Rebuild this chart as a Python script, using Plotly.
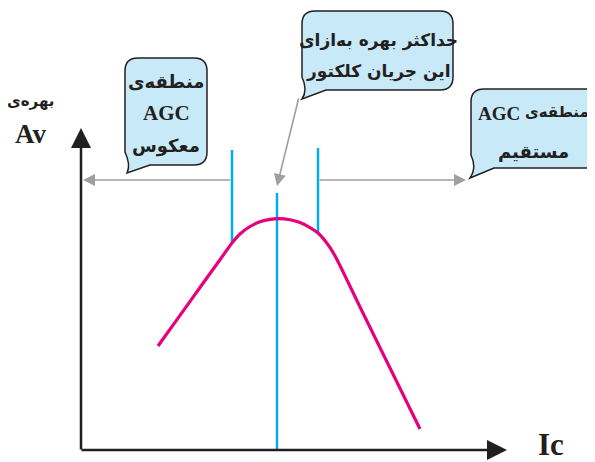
import plotly.graph_objects as go

# ---- data (schematic gain curve Av vs collector current Ic) ----
curve_x = [158, 180, 200, 220, 232, 240, 250, 260, 270, 279, 290, 300, 310, 318, 326, 334, 360, 390, 420]
curve_y = [346, 315.4, 287.5, 259.7, 243, 234, 226.5, 221.8, 219.3, 218.6, 219.8, 222.6, 227.6, 233, 242, 254, 307, 368, 429]

marker_x = [232, 277, 318]          # AGC region borders and max-gain current
marker_top = [150, 193, 148]
marker_bottom = [243, 450, 233]

y_label = ["بهره‌ی", "Av"]
x_label = "Ic"
callout_left = ["منطقه‌ی", "AGC", "معکوس"]
callout_mid = ["حداکثر بهره به‌ازای", "این جریان کلکتور"]
callout_right = ["AGC", "منطقه‌ی", "مستقیم"]

W, H = 595, 462
PAD = 8  # page body margin offset
INK = "#231f20"
BLUE = "#00aeef"
PINK = "#e6007e"
GRAY = "#9d9fa2"
FILL = "#c8e9f8"
FA = "DejaVu Sans"
SERIF = "Liberation Serif"

fig = go.Figure()

# blue marker lines
bx, by = [], []
for x, t, b in zip(marker_x, marker_top, marker_bottom):
    bx += [x, x, None]
    by += [t, b, None]
fig.add_trace(go.Scatter(x=bx, y=by, mode="lines", line=dict(color=BLUE, width=2.5),
                         hoverinfo="skip"))

# gain curve
fig.add_trace(go.Scatter(x=curve_x, y=curve_y, mode="lines",
                         line=dict(color=PINK, width=3.2, shape="spline", smoothing=0.8),
                         hoverinfo="skip"))


def bubble(x0, y0, x1, y1, r, b0, b1, tx, ty):
    return (f"M {x0+r},{y0} L {x1-r},{y0} Q {x1},{y0} {x1},{y0+r} "
            f"L {x1},{y1-r} Q {x1},{y1} {x1-r},{y1} L {b1},{y1} L {tx},{ty} "
            f"Q {b0},{y1} {x0},{y1-r} L {x0},{y0+r} Q {x0},{y0} {x0+r},{y0} Z")


shapes = [
    dict(type="path", xref="x", yref="y", path=bubble(125, 58, 207, 165, 13, 131, 150, 127, 173),
         fillcolor=FILL, line=dict(color=INK, width=1.5)),
    dict(type="path", xref="x", yref="y", path=bubble(302, 11, 453, 90, 13, 308, 326, 302, 99),
         fillcolor=FILL, line=dict(color=INK, width=1.5)),
    dict(type="path", xref="x", yref="y", path=bubble(471, 89, 600, 168, 13, 477, 494, 470, 178),
         fillcolor=FILL, line=dict(color=INK, width=1.5)),
]

ann = []
# axes with arrowheads
ann.append(dict(x=81, y=128, ax=81, ay=451, xref="x", yref="y", axref="x", ayref="y",
                showarrow=True, arrowhead=2, arrowsize=1.6, arrowwidth=2.5, arrowcolor=INK, text=""))
ann.append(dict(x=507, y=450, ax=80, ay=450, xref="x", yref="y", axref="x", ayref="y",
                showarrow=True, arrowhead=2, arrowsize=1.6, arrowwidth=2.5, arrowcolor=INK, text=""))
# gray region arrows
for tip, tail in [((83, 180), (232, 180)), ((466, 180), (318, 180)), ((277, 186), (299, 97))]:
    ann.append(dict(x=tip[0], y=tip[1], ax=tail[0], ay=tail[1], xref="x", yref="y",
                    axref="x", ayref="y", showarrow=True, arrowhead=2, arrowsize=1.5,
                    arrowwidth=1.6, arrowcolor=GRAY, text=""))


def txt(x, y, s, size, family, xanchor="center"):
    ann.append(dict(x=x, y=y, xref="x", yref="y", text=f"<b>{s}</b>", showarrow=False,
                    font=dict(family=family, size=size, color=INK), xanchor=xanchor,
                    yanchor="middle", borderpad=0))


txt(30, 101, y_label[0], 15, FA)
txt(30, 134, y_label[1], 27, SERIF)
txt(551, 444, x_label, 31, SERIF)

txt(166, 81, callout_left[0], 18, FA)
txt(166, 113, callout_left[1], 21, SERIF)
txt(166, 146, callout_left[2], 18, FA)

for s, y in zip(callout_mid, [40, 71]):
    txt(378, y, s, 17, FA)

txt(521, 113, callout_right[0], 19, SERIF, xanchor="right")
txt(590, 112, callout_right[1], 15, FA, xanchor="right")
txt(533, 151, callout_right[2], 18, FA)

fig.update_layout(
    width=W - PAD, height=H - PAD, margin=dict(l=0, r=0, t=0, b=0),
    paper_bgcolor="white", plot_bgcolor="white", showlegend=False,
    xaxis=dict(range=[PAD, W], visible=False, fixedrange=True),
    yaxis=dict(range=[H, PAD], visible=False, fixedrange=True),
    shapes=shapes, annotations=ann,
)

fig.write_html("out.html")
